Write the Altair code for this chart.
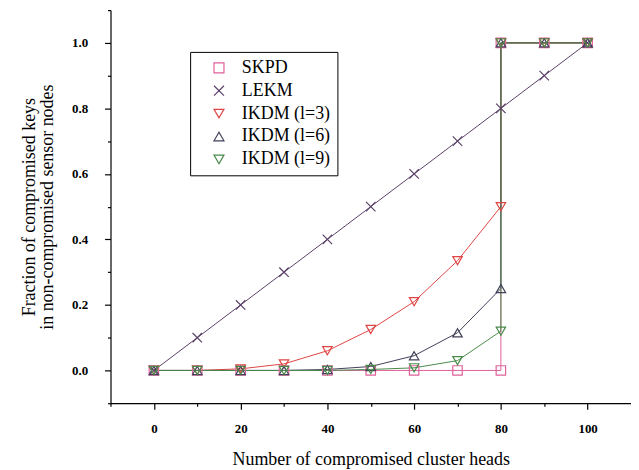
import altair as alt
import pandas as pd

series = ["SKPD", "LEKM", "IKDM (l=3)", "IKDM (l=6)", "IKDM (l=9)"]
colors = ["#e0609a", "#5a4068", "#e04545", "#404058", "#4a8a4a"]
shapes = ["square", "M -1 -1 L 1 1 M -1 1 L 1 -1", "triangle-down", "triangle-up", "triangle-down"]

x_main = [0, 10, 20, 30, 40, 50, 60, 70, 80]
skpd = [0.0, 0.0, 0.0, 0.0, 0.0, 0.0, 0.0, 0.0, 0.0]
ikdm3 = [0.0, 0.0, 0.005, 0.02, 0.06, 0.125, 0.21, 0.335, 0.50]
ikdm6 = [0.0, 0.0, 0.0, 0.0, 0.003, 0.012, 0.045, 0.115, 0.25]
ikdm9 = [0.0, 0.0, 0.0, 0.0, 0.0, 0.003, 0.008, 0.03, 0.12]
x_tail = [80, 90, 100]
y_tail = [1.0, 1.0, 1.0]
x_lekm = [0, 10, 20, 30, 40, 50, 60, 70, 80, 90, 100]
lekm = [0.0, 0.1, 0.2, 0.3, 0.4, 0.5, 0.6, 0.7, 0.8, 0.9, 1.0]

x_ticks = [-10, 0, 10, 20, 30, 40, 50, 60, 70, 80, 90, 100]
y_ticks = [-0.1, 0.0, 0.1, 0.2, 0.3, 0.4, 0.5, 0.6, 0.7, 0.8, 0.9, 1.0, 1.1]

rows = []
def add(name, xs, ys):
    for i, (a, b) in enumerate(zip(xs, ys)):
        rows.append({"series": name, "x": a, "y": b, "idx": i})

add("SKPD", x_main + x_tail, skpd + y_tail)
add("LEKM", x_lekm, lekm)
add("IKDM (l=3)", x_main + x_tail, ikdm3 + y_tail)
add("IKDM (l=6)", x_main + x_tail, ikdm6 + y_tail)
add("IKDM (l=9)", x_main + x_tail, ikdm9 + y_tail)
df = pd.DataFrame(rows)

FONT = "Liberation Serif"

xenc = alt.X("x:Q", scale=alt.Scale(domain=[-10, 110], nice=False, zero=False),
             axis=alt.Axis(values=x_ticks, title="Number of compromised cluster heads",
                           labelExpr="(datum.value % 20 == 0 && datum.value >= 0) ? datum.label : ''",
                           tickSize={"condition": {"test": "datum.value % 20 == 0", "value": 6}, "value": 3},
                           format="d", titlePadding=16, labelPadding=13))
yenc = alt.Y("y:Q", scale=alt.Scale(domain=[-0.1, 1.1], nice=False, zero=False),
             axis=alt.Axis(values=y_ticks,
                           title=["Fraction of compromised keys", "in non-compromised sensor nodes"],
                           labelExpr="(round(datum.value*10) % 2 == 0 && datum.value > -0.05 && datum.value < 1.05) ? format(datum.value, '.1f') : ''",
                           tickSize={"condition": {"test": "round(datum.value*10) % 2 == 0", "value": 6}, "value": 3},
                           titlePadding=15, labelPadding=17, titleLineHeight=18))

color_scale = alt.Scale(domain=series, range=colors)
legend = alt.Legend(orient="none", legendX=80, legendY=42, title=None,
                    labelFont=FONT, labelFontSize=18, labelColor="black",
                    symbolOpacity=1, symbolFillColor="white")

line_layers = []
for s in series:
    line_layers.append(
        alt.Chart(df).transform_filter(alt.datum.series == s).mark_line(strokeWidth=1).encode(
            x=xenc, y=yenc,
            color=alt.Color("series:N", scale=color_scale, legend=legend),
            order="idx:Q",
        )
    )

points = alt.Chart(df).mark_point(filled=False, size=90, strokeWidth=1.2, opacity=1).encode(
    x=xenc, y=yenc,
    color=alt.Color("series:N", scale=color_scale, legend=legend),
    shape=alt.Shape("series:N", scale=alt.Scale(domain=series, range=shapes), legend=legend),
)

chart = alt.layer(*line_layers, points).properties(
    width=523, height=395,
    padding={"left": 12, "top": 0, "right": 0, "bottom": 0},
).configure(font=FONT).configure_view(stroke=None).configure_axis(
    grid=False, domainColor="black", tickColor="black", labelColor="black", titleColor="black",
    labelFont=FONT, titleFont=FONT, labelFontSize=13, labelFontWeight="bold",
    titleFontSize=18, titleFontWeight="normal",
    domainWidth=1.2, tickWidth=1.2,
).configure_legend(
    strokeColor="black", fillColor="white", padding=7, labelFont=FONT, labelFontSize=18,
    labelColor="black", symbolSize=100, symbolStrokeWidth=1.2, rowPadding=5,
    symbolOffset=13, labelOffset=14, symbolOpacity=1,
)

chart.save("out.html", embed_options={"renderer": "svg", "actions": False})
